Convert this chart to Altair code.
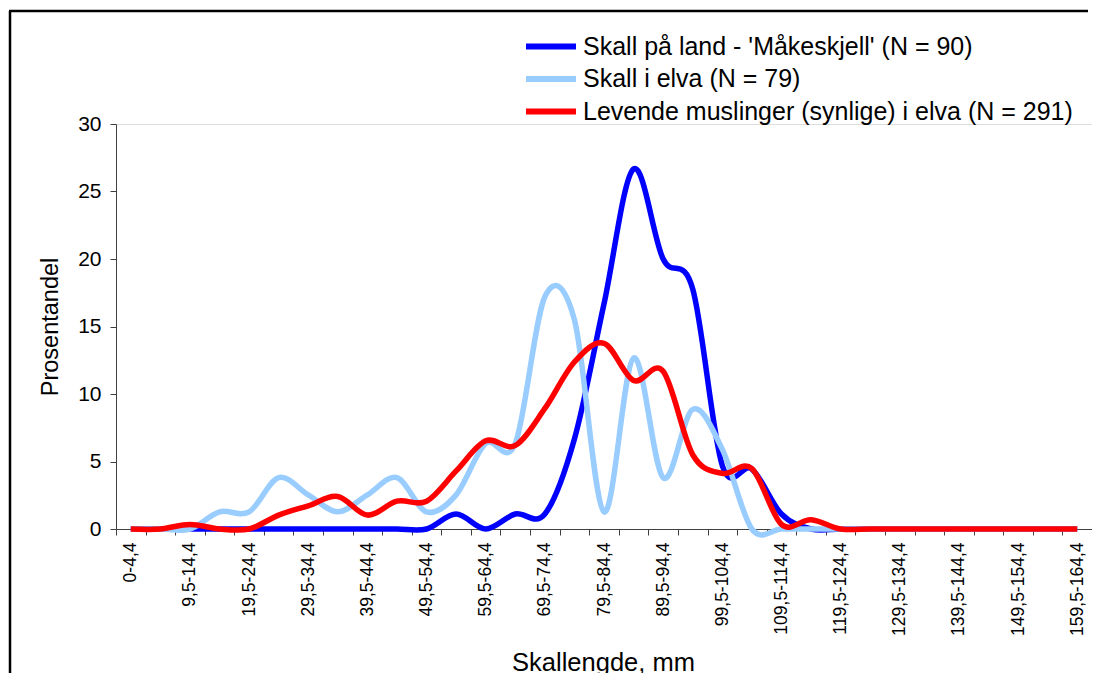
import altair as alt
import pandas as pd

categories = [
    "0-4,4", "4,5-9,4", "9,5-14,4", "14,5-19,4", "19,5-24,4", "24,5-29,4",
    "29,5-34,4", "34,5-39,4", "39,5-44,4", "44,5-49,4", "49,5-54,4", "54,5-59,4",
    "59,5-64,4", "64,5-69,4", "69,5-74,4", "74,5-79,4", "79,5-84,4", "84,5-89,4",
    "89,5-94,4", "94,5-99,4", "99,5-104,4", "104,5-109,4", "109,5-114,4",
    "114,5-119,4", "119,5-124,4", "124,5-129,4", "129,5-134,4", "134,5-139,4",
    "139,5-144,4", "144,5-149,4", "149,5-154,4", "154,5-159,4", "159,5-164,4",
]
shown_labels = categories[::2]

series_names = [
    "Skall på land - 'Måkeskjell' (N = 90)",
    "Skall i elva (N = 79)",
    "Levende muslinger (synlige) i elva (N = 291)",
]
series_colors = ["#0000FF", "#99CCFF", "#FF0000"]

land = [0, 0, 0, 0, 0, 0, 0, 0, 0, 0, 0, 1.11, 0, 1.11, 1.11, 6.67, 16.67,
        26.67, 20.0, 17.78, 4.7, 4.44, 1.11, 0, 0, 0, 0, 0, 0, 0, 0, 0, 0]
elva = [0, 0, 0, 1.27, 1.27, 3.80, 2.53, 1.27, 2.53, 3.80, 1.27, 2.53, 6.33,
        6.33, 17.2, 15.5, 1.27, 12.66, 3.80, 8.86, 5.9, 0, 0, 0, 0, 0, 0,
        0, 0, 0, 0, 0, 0]
levende = [0, 0, 0.34, 0, 0, 1.03, 1.72, 2.41, 1.03, 2.06, 2.06, 4.3, 6.53,
           6.19, 8.93, 12.37, 13.75, 11.0, 11.68, 5.5, 4.12, 4.47, 0.34, 0.69,
           0, 0, 0, 0, 0, 0, 0, 0, 0]

rows = []
for name, vals in zip(series_names, [land, elva, levende]):
    for c, v in zip(categories, vals):
        rows.append({"kategori": c, "serie": name, "verdi": v})
df = pd.DataFrame(rows)

FONT = "Liberation Sans"
W, H = 976, 405
BOTTOM = 144

label_list = "[" + ",".join("'" + s + "'" for s in shown_labels) + "]"

lines = alt.Chart(df).mark_line(
    interpolate="cardinal", strokeWidth=5.5
).encode(
    x=alt.X(
        "kategori:O",
        sort=categories,
        scale=alt.Scale(paddingInner=0, paddingOuter=0),
        axis=alt.Axis(
            title="Skallengde, mm",
            titleFont=FONT, titleFontSize=25.5, titleFontWeight="normal",
            titleColor="black", titleX=W / 2 - 1, titleY=133,
            titleBaseline="middle", titleAlign="center",
            labelFont=FONT, labelFontSize=17.5, labelColor="black",
            labelAngle=-90, labelAlign="right", labelBaseline="middle",
            labelPadding=7, labelExpr=f"indexof({label_list}, datum.value) >= 0 ? datum.value : ''",
            labelOverlap=False,
            tickBand="extent", tickSize=6, tickColor="#404040",
            domainColor="#404040", grid=False,
        ),
    ),
    y=alt.Y(
        "verdi:Q",
        scale=alt.Scale(domain=[0, 30], nice=False, zero=True),
        axis=alt.Axis(
            title="Prosentandel",
            values=[0, 5, 10, 15, 20, 25, 30],
            titleFont=FONT, titleFontSize=23.5, titleFontWeight="normal",
            titleColor="black", titleX=-66, titleY=H / 2,
            titleAngle=-90, titleAlign="center", titleBaseline="middle",
            labelFont=FONT, labelFontSize=21, labelColor="black",
            labelPadding=9, tickSize=6, tickColor="#404040",
            domainColor="#404040", grid=False,
        ),
    ),
    color=alt.Color(
        "serie:N",
        sort=series_names,
        scale=alt.Scale(domain=series_names, range=series_colors),
        legend=alt.Legend(
            title=None, orient="none", legendX=419.5, legendY=-93,
            symbolType="M-2,0L2,0", symbolSize=625, symbolStrokeWidth=6,
            labelFont=FONT, labelFontSize=25, labelColor="black",
            labelOffset=16.5, rowPadding=3.5, padding=0, labelLimit=700,
        ),
    ),
    detail="serie:N",
)

frame_data = alt.Data(values=[{}])
left_edge = alt.Chart(frame_data).mark_rule(color="black", strokeWidth=2.5).encode(
    x=alt.value(-106), y=alt.value(-113), y2=alt.value(H + BOTTOM)
)
top_edge = alt.Chart(frame_data).mark_rule(color="black", strokeWidth=2.5).encode(
    x=alt.value(-107), x2=alt.value(W - 4), y=alt.value(-113)
)

chart = alt.layer(lines, left_edge, top_edge).properties(
    width=W, height=H,
    autosize=alt.AutoSizeParams(type="none"),
    padding={"left": 108, "top": 116, "right": 0, "bottom": BOTTOM},
).configure_view(stroke=None).configure(background="white")

chart.save("out.html", embed_options={"renderer": "svg", "actions": False})
